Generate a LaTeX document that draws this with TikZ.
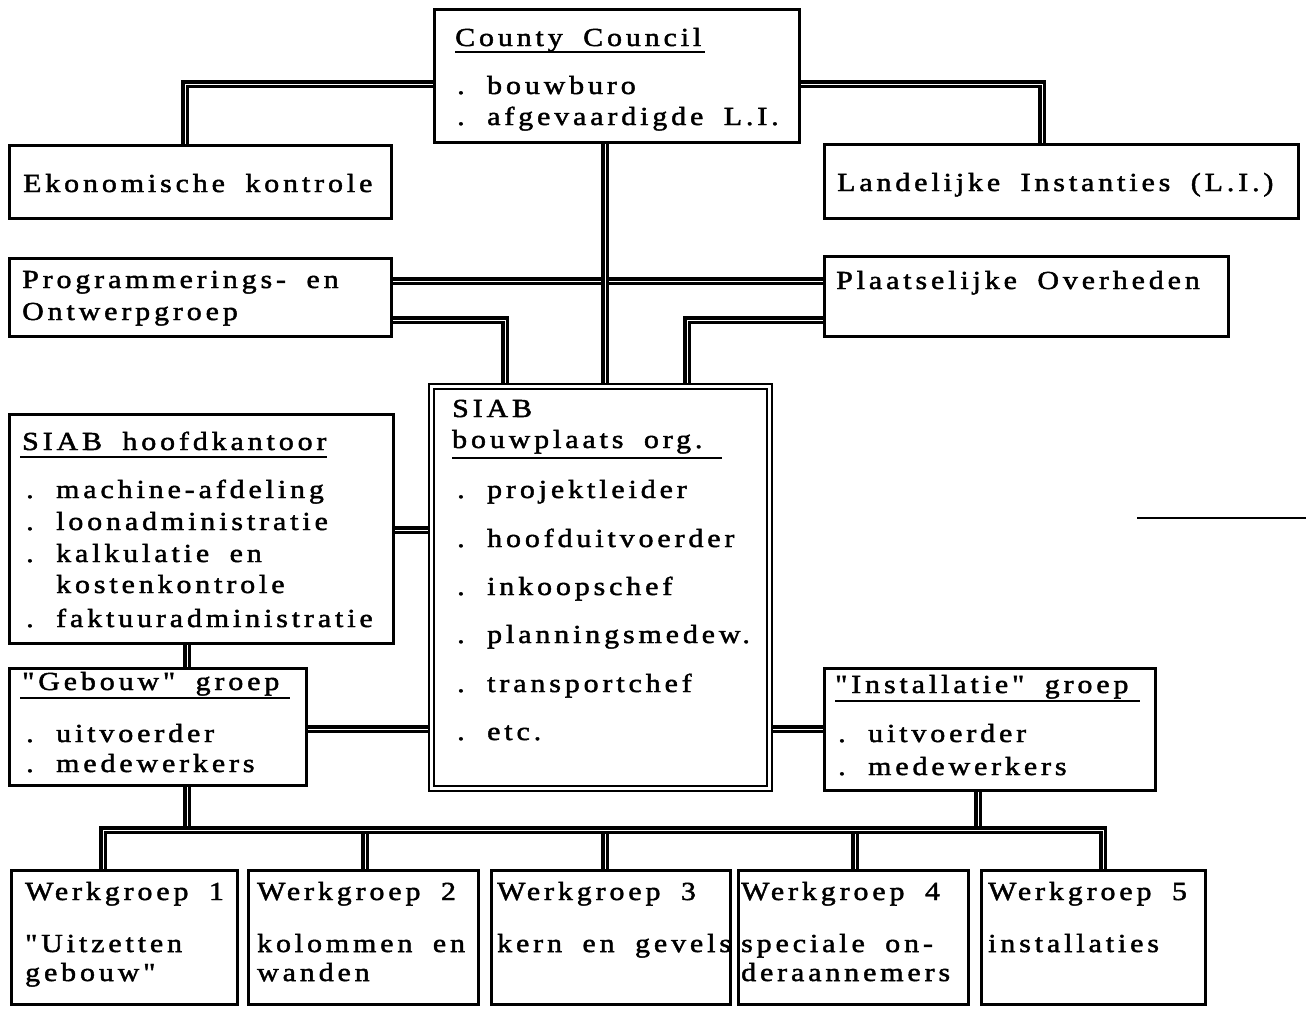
\documentclass[tikz,border=0pt]{standalone}
\usepackage{fontspec}
\setmainfont{Liberation Serif}[FakeStretch=1.15, LetterSpace=15, WordSpace=1.8, Ligatures=TeXOff, FakeBold=1.8]
\usetikzlibrary{backgrounds}
\newcommand{\mybox}[5]{\node[box, minimum width={#4-#2-2.6}, minimum height={#5-#3-2.6}] (#1) at ({(#2+#4)/2},{(#3+#5)/2}) {};}
\newcommand{\tx}[4]{\node[txt] (#1) at (#2,#3) {#4};}
\newcommand{\itm}[4]{\node[txt] (#1) at (#2,#3) {\makebox[30pt][l]{.}#4};}
\begin{document}
\begin{tikzpicture}[x=1pt,y=-1pt,
  box/.style={draw, line width=2.6pt, fill=white, inner sep=0pt},
  dbox/.style={draw, line width=2.2pt, double=white, double distance=3pt, fill=white, inner sep=0pt},
  conn/.style={line width=3.6pt, double=white, double distance=1pt},
  txt/.style={anchor=base west, inner sep=0pt, font=\fontsize{26}{30}\selectfont},
  uline/.style={line width=1.6pt}]
\useasboundingbox (0,0) rectangle (1306,1010);

% boxes
\mybox{cc}{433}{8}{801}{144}
\mybox{ek}{8}{144}{393}{220}
\mybox{li}{823}{143}{1300}{220}
\mybox{pg}{8}{257}{393}{338}
\mybox{po}{823}{255}{1230}{338}
\node[dbox, minimum width=337.6, minimum height=401.6] (bp) at (600.5,587.5) {};
\mybox{hk}{8}{413}{395}{645}
\mybox{ge}{8}{667}{308}{787}
\mybox{in}{823}{667}{1157}{792}
\mybox{w1}{10}{869}{239}{1006}
\mybox{w2}{247}{869}{480}{1006}
\mybox{w3}{490}{869}{732}{1006}
\mybox{w4}{737}{869}{970}{1006}
\mybox{w5}{980}{869}{1207}{1006}

% texts
\tx{cct}{455}{46}{County Council}
\draw[uline] (cct.base west |- 0,52) -- (705,52);
\itm{cc1}{457}{94}{bouwburo}
\itm{cc2}{457}{125}{afgevaardigde L.I.}
\tx{ekt}{23}{192}{Ekonomische kontrole}
\tx{lit}{837}{191}{Landelijke Instanties (L.I.)}
\tx{pg1}{22}{288}{Programmerings- en}
\tx{pg2}{22}{320}{Ontwerpgroep}
\tx{pot}{836}{289}{Plaatselijke Overheden}
\tx{bp0}{452}{417}{SIAB}
\tx{bpt}{452}{448}{bouwplaats org.}
\draw[uline] (452,458) -- (722,458);
\itm{bp1}{457}{498}{projektleider}
\itm{bp2}{457}{547}{hoofduitvoerder}
\itm{bp3}{457}{595}{inkoopschef}
\itm{bp4}{457}{643}{planningsmedew.}
\itm{bp5}{457}{692}{transportchef}
\itm{bp6}{457}{740}{etc.}
\tx{hkt}{22}{450}{SIAB hoofdkantoor}
\draw[uline] (20,457) -- (327,457);
\itm{hk1}{26}{498}{machine-afdeling}
\itm{hk2}{26}{530}{loonadministratie}
\itm{hk3}{26}{562}{kalkulatie en}
\tx{hk4}{56}{593}{kostenkontrole}
\itm{hk5}{26}{627}{faktuuradministratie}
\tx{get}{22}{690}{"Gebouw" groep}
\draw[uline] (20,698) -- (290,698);
\itm{ge1}{26}{742}{uitvoerder}
\itm{ge2}{26}{772}{medewerkers}
\tx{int}{835}{693}{"Installatie" groep}
\draw[uline] (835,701) -- (1140,701);
\itm{in1}{838}{742}{uitvoerder}
\itm{in2}{838}{775}{medewerkers}
\tx{w1a}{25}{900}{Werkgroep 1}
\tx{w1b}{25}{952}{"Uitzetten}
\tx{w1c}{25}{981}{gebouw"}
\tx{w2a}{257}{900}{Werkgroep 2}
\tx{w2b}{257}{952}{kolommen en}
\tx{w2c}{257}{981}{wanden}
\tx{w3a}{497}{900}{Werkgroep 3}
\tx{w3b}{497}{952}{kern en gevels}
\tx{w4a}{741}{900}{Werkgroep 4}
\tx{w4b}{741}{952}{speciale on-}
\tx{w4c}{741}{981}{deraannemers}
\tx{w5a}{988}{900}{Werkgroep 5}
\tx{w5b}{988}{952}{installaties}

% connectors
\coordinate (busL) at (103,830);
\coordinate (busR) at (1103,830);
\coordinate (s1) at (1137,518);
\coordinate (s2) at (1306,518);
\begin{scope}[on background layer]
\draw[conn] (cc.west |- 0,84) -| (ek.north -| 185,0);
\draw[conn] (cc.east |- 0,84) -| (li.north -| 1042,0);
\draw[conn] (pg.east |- 0,320) -| (bp.north -| 505,0);
\draw[conn] (po.west |- 0,320) -| (bp.north -| 687,0);
\draw[conn] (pg.east |- 0,281) -- (po.west |- 0,281);
\draw[conn] (cc.south -| 605,0) -- (bp.north -| 605,0);
\draw[conn] (hk.east |- 0,530) -- (bp.west |- 0,530);
\draw[conn] (hk.south -| 187,0) -- (ge.north -| 187,0);
\draw[conn] (ge.east |- 0,729) -- (bp.west |- 0,729);
\draw[conn] (bp.east |- 0,729) -- (in.west |- 0,729);
\draw[conn] (ge.south -| 187,0) -- (busL -| 187,0);
\draw[conn] (in.south -| 978,0) -- (busL -| 978,0);
\draw[conn] (busL -| 365,0) -- (w2.north -| 365,0);
\draw[conn] (busL -| 605,0) -- (w3.north -| 605,0);
\draw[conn] (busL -| 855,0) -- (w4.north -| 855,0);
\draw[conn] (w1.north -| busL) -- (busL) -- (busR) -- (w5.north -| busR);
\end{scope}
\draw[line width=2.6pt] (s1) -- (s2);
\end{tikzpicture}
\end{document}
